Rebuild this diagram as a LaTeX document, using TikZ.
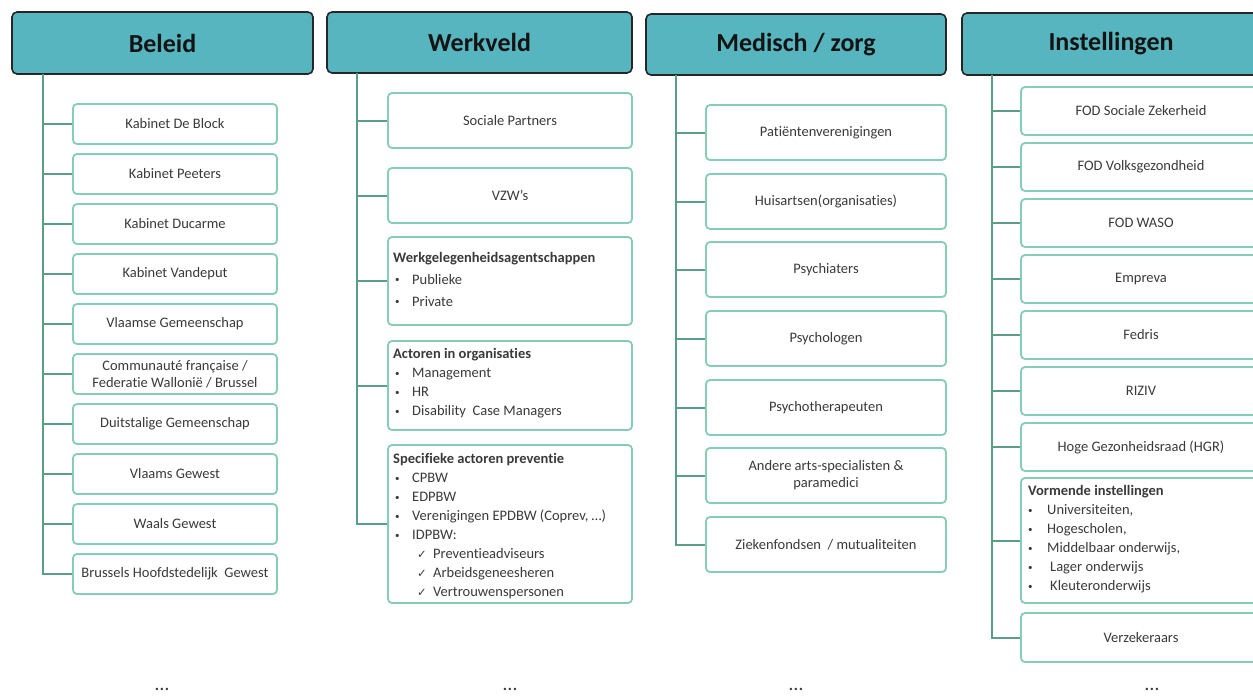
\documentclass[tikz,border=0pt]{standalone}
\usepackage{fontspec}
\setmainfont{Carlito}[Ligatures=NoCommon]
\newfontfamily\checkfont{DejaVu Sans}

\definecolor{headfill}{HTML}{57B5BF}
\definecolor{headline}{HTML}{262626}
\definecolor{headtext}{HTML}{141414}
\definecolor{itemline}{HTML}{86CDB5}
\definecolor{itemtext}{HTML}{3A3A3A}
\definecolor{trunkline}{HTML}{5A9E88}

\newcommand\smallbul{\raisebox{1.5pt}{\fontsize{9}{9}\selectfont\textbullet}}
\newcommand\itembul{\hspace*{2pt}\makebox[17pt][l]{\smallbul}}
\newcommand\itemchk{\hspace*{24pt}\makebox[16pt][l]{\checkfont\fontsize{11.5}{11.5}\selectfont ✓}}
\newcommand\itemvbul{\makebox[19pt][l]{\smallbul}}

\tikzset{
  header/.style={draw=headline, fill=headfill, line width=1.6pt, rounded corners=5pt,
    inner sep=0pt, font=\fontsize{26}{30}\selectfont\bfseries, text=headtext},
  item/.style={draw=itemline, fill=white, line width=1.8pt, rounded corners=4pt,
    inner sep=0pt, align=center, font=\fontsize{14.5}{17}\selectfont, text=itemtext},
  list/.style={anchor=north west, align=left, inner sep=0pt,
    font=\fontsize{14.5}{19}\selectfont, text=itemtext},
  trunk/.style={draw=trunkline, line width=2pt},
  dots/.style={font=\fontsize{20}{20}\selectfont, text=itemtext},
}

\begin{document}
\begin{tikzpicture}[x=1pt, y=-1pt]
  \useasboundingbox (0,0) rectangle (1253,696);

  % Beleid
  \node[header, minimum width=301pt, minimum height=62pt] (bel) at (162.5,43) {Beleid};
  \coordinate (belTop) at (43,74);
  \node[item, minimum width=204pt, minimum height=40pt] (b1) at (175,124) {Kabinet De Block};
  \node[item, minimum width=204pt, minimum height=40pt] (b2) at (175,174) {Kabinet Peeters};
  \node[item, minimum width=204pt, minimum height=40pt] (b3) at (175,224) {Kabinet Ducarme};
  \node[item, minimum width=204pt, minimum height=40pt] (b4) at (175,274) {Kabinet Vandeput};
  \node[item, minimum width=204pt, minimum height=40pt] (b5) at (175,324) {Vlaamse Gemeenschap};
  \node[item, minimum width=204pt, minimum height=40pt] (b6) at (175,374) {Communauté française /\\Federatie Wallonië / Brussel};
  \node[item, minimum width=204pt, minimum height=40pt] (b7) at (175,424) {Duitstalige Gemeenschap};
  \node[item, minimum width=204pt, minimum height=40pt] (b8) at (175,474) {Vlaams Gewest};
  \node[item, minimum width=204pt, minimum height=40pt] (b9) at (175,524) {Waals Gewest};
  \node[item, minimum width=204pt, minimum height=40pt] (b10) at (175,574) {Brussels Hoofdstedelijk\ \ Gewest};
  \draw[trunk] (belTop) |- (b10);
  \draw[trunk] (belTop |- b1) -- (b1);
  \draw[trunk] (belTop |- b2) -- (b2);
  \draw[trunk] (belTop |- b3) -- (b3);
  \draw[trunk] (belTop |- b4) -- (b4);
  \draw[trunk] (belTop |- b5) -- (b5);
  \draw[trunk] (belTop |- b6) -- (b6);
  \draw[trunk] (belTop |- b7) -- (b7);
  \draw[trunk] (belTop |- b8) -- (b8);
  \draw[trunk] (belTop |- b9) -- (b9);

  % Werkveld
  \node[header, minimum width=305pt, minimum height=61pt] (wer) at (479.5,42.5) {Werkveld};
  \coordinate (werTop) at (357,73);
  \node[item, minimum width=244pt, minimum height=55pt] (w1) at (510,120.5) {Sociale Partners};
  \node[item, minimum width=244pt, minimum height=55pt] (w2) at (510,195.5) {VZW’s};
  \node[item, minimum width=244pt, minimum height=88pt] (w3) at (510,281) {};
  \node[list] (w3txt) at (393,252) {\textbf{Werkgelegenheidsagentschappen}\\[3pt]
    \itembul Publieke\\[3pt]
    \itembul Private};
  \node[item, minimum width=244pt, minimum height=89pt] (w4) at (510,385.5) {};
  \node[list] (w4txt) at (393,348.5) {\textbf{Actoren in organisaties}\\
    \itembul Management\\
    \itembul HR\\
    \itembul Disability\ \ Case Managers};
  \node[item, minimum width=244pt, minimum height=158pt] (w5) at (510,524) {};
  \node[list] (w5txt) at (393,453.5) {\textbf{Specifieke actoren preventie}\\
    \itembul CPBW\\
    \itembul EDPBW\\
    \itembul Verenigingen EPDBW (Coprev, …)\\
    \itembul IDPBW:\\
    \itemchk Preventieadviseurs\\
    \itemchk Arbeidsgeneesheren\\
    \itemchk Vertrouwenspersonen};
  \draw[trunk] (werTop) |- (w5);
  \draw[trunk] (werTop |- w1) -- (w1);
  \draw[trunk] (werTop |- w2) -- (w2);
  \draw[trunk] (werTop |- w3) -- (w3);
  \draw[trunk] (werTop |- w4) -- (w4);

  % Medisch / zorg
  \node[header, minimum width=300pt, minimum height=61pt] (med) at (796,44.5) {Medisch / zorg};
  \coordinate (medTop) at (676,75);
  \node[item, minimum width=240pt, minimum height=55pt] (m1) at (826,132.5) {Patiëntenverenigingen};
  \node[item, minimum width=240pt, minimum height=55pt] (m2) at (826,201.5) {Huisartsen(organisaties)};
  \node[item, minimum width=240pt, minimum height=55pt] (m3) at (826,269.5) {Psychiaters};
  \node[item, minimum width=240pt, minimum height=55pt] (m4) at (826,338.5) {Psychologen};
  \node[item, minimum width=240pt, minimum height=55pt] (m5) at (826,407.5) {Psychotherapeuten};
  \node[item, minimum width=240pt, minimum height=55pt] (m6) at (826,475.5) {Andere arts-specialisten \&\\paramedici};
  \node[item, minimum width=240pt, minimum height=55pt] (m7) at (826,544.5) {Ziekenfondsen\ \ / mutualiteiten};
  \draw[trunk] (medTop) |- (m7);
  \draw[trunk] (medTop |- m1) -- (m1);
  \draw[trunk] (medTop |- m2) -- (m2);
  \draw[trunk] (medTop |- m3) -- (m3);
  \draw[trunk] (medTop |- m4) -- (m4);
  \draw[trunk] (medTop |- m5) -- (m5);
  \draw[trunk] (medTop |- m6) -- (m6);

  % Instellingen
  \node[header, minimum width=298pt, minimum height=62pt] (ins) at (1111,44) {Instellingen};
  \coordinate (insTop) at (992,75);
  \node[item, minimum width=240pt, minimum height=48pt] (i1) at (1141,111) {FOD Sociale Zekerheid};
  \node[item, minimum width=240pt, minimum height=48pt] (i2) at (1141,167) {FOD Volksgezondheid};
  \node[item, minimum width=240pt, minimum height=48pt] (i3) at (1141,223) {FOD WASO};
  \node[item, minimum width=240pt, minimum height=48pt] (i4) at (1141,279) {Empreva};
  \node[item, minimum width=240pt, minimum height=48pt] (i5) at (1141,335) {Fedris};
  \node[item, minimum width=240pt, minimum height=48pt] (i6) at (1141,391) {RIZIV};
  \node[item, minimum width=240pt, minimum height=48pt] (i7) at (1141,447) {Hoge Gezonheidsraad (HGR)};
  \node[item, minimum width=240pt, minimum height=125pt] (i8) at (1141,540.5) {};
  \node[list] (i8txt) at (1028,485.5) {\textbf{Vormende instellingen}\\
    \itemvbul Universiteiten,\\
    \itemvbul Hogescholen,\\
    \itemvbul Middelbaar onderwijs,\\
    \itemvbul\hspace*{3pt}Lager onderwijs\\
    \itemvbul\hspace*{3pt}Kleuteronderwijs};
  \node[item, minimum width=240pt, minimum height=49pt] (i9) at (1141,637.5) {Verzekeraars};
  \draw[trunk] (insTop) |- (i9);
  \draw[trunk] (insTop |- i1) -- (i1);
  \draw[trunk] (insTop |- i2) -- (i2);
  \draw[trunk] (insTop |- i3) -- (i3);
  \draw[trunk] (insTop |- i4) -- (i4);
  \draw[trunk] (insTop |- i5) -- (i5);
  \draw[trunk] (insTop |- i6) -- (i6);
  \draw[trunk] (insTop |- i7) -- (i7);
  \draw[trunk] (insTop |- i8) -- (i8);

  % Ellipses under the columns
  \node[dots] (dots1) at (162,689) {…};
  \node[dots] (dots2) at (510,689) {…};
  \node[dots] (dots3) at (796,689) {…};
  \node[dots] (dots4) at (1152,689) {…};
\end{tikzpicture}
\end{document}
